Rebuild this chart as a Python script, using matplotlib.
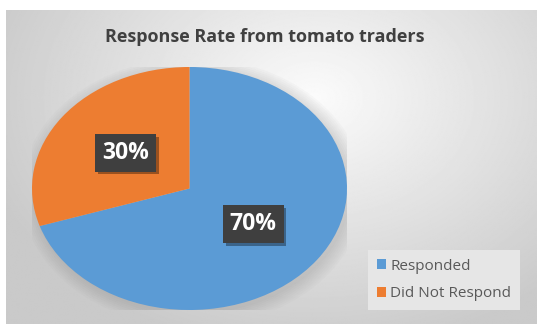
import numpy as np
import matplotlib
matplotlib.use("Agg")
import matplotlib.pyplot as plt
from matplotlib import patheffects
from matplotlib.patches import Ellipse, Patch

# Data
labels = ["Responded", "Did Not Respond"]
values = [70, 30]
colors = ["#5B9BD5", "#ED7D31"]
title = "Response Rate from tomato traders"

plt.rcParams['font.family'] = ['Open Sans', 'DejaVu Sans']

W, H = 537, 324
fig = plt.figure(figsize=(W / 100, H / 100), dpi=100)
fig.patch.set_facecolor("white")

# gray radial gradient background (chart area frame)
bg = fig.add_axes([6 / W, 0, (W - 6) / W, (H - 10) / H])
yy, xx = np.mgrid[0:1:300j, 0:1:500j]
d = np.sqrt(((xx - 0.58) * 1.0) ** 2 + ((yy - 0.28) * 0.8) ** 2)
g = np.clip(0.985 - 0.30 * d, 0.79, 0.985)
bg.imshow(g, cmap="gray", vmin=0, vmax=1, aspect="auto", extent=[0, 1, 1, 0])
bg.axis("off")

# pie, stretched horizontally like the original
ax = fig.add_axes([32 / W, 14 / H, 315 / W, 243 / H])
for i in range(8):
    ax.add_patch(Ellipse((0.02, -0.03), 2.0 + 0.025 * i, 2.0 + 0.03 * i,
                         color="#808080", alpha=0.035, lw=0, zorder=0))
wedges, texts, autotexts = ax.pie(values, colors=colors, startangle=90, counterclock=False,
                                  autopct='%d%%', pctdistance=0.5, radius=1,
                                  textprops=dict(color="white", fontsize=16.5, fontweight="bold"))
for w in wedges:
    w.set_zorder(2)
for t in autotexts:
    t.set_zorder(5)
    t.set_bbox(dict(boxstyle="square,pad=0.3", facecolor="#3f3f3f", edgecolor="none"))
    t.get_bbox_patch().set_path_effects([
        patheffects.SimplePatchShadow(offset=(2, -2), shadow_rgbFace="black", alpha=0.35),
        patheffects.Normal()])
ax.set_aspect("auto")
ax.set_xlim(-1, 1)
ax.set_ylim(-1, 1)
ax.axis("off")

fig.text(265 / W, 1 - 37 / H, title, ha="center", va="center",
         fontsize=13, fontweight="bold", color="#404040")

handles = [Patch(facecolor=c, edgecolor="none") for c in colors]
leg = fig.legend(handles, labels, loc="center", bbox_to_anchor=(444 / W, 1 - 280 / H),
                 fontsize=11, labelcolor="#595959", frameon=True, fancybox=False,
                 handlelength=0.6, handleheight=0.6, handletextpad=0.3,
                 labelspacing=0.85, borderpad=0.55)
leg.get_frame().set_facecolor("#e6e6e6")
leg.get_frame().set_edgecolor("none")
leg.get_frame().set_alpha(1)

fig.savefig("out.png", dpi=100)
